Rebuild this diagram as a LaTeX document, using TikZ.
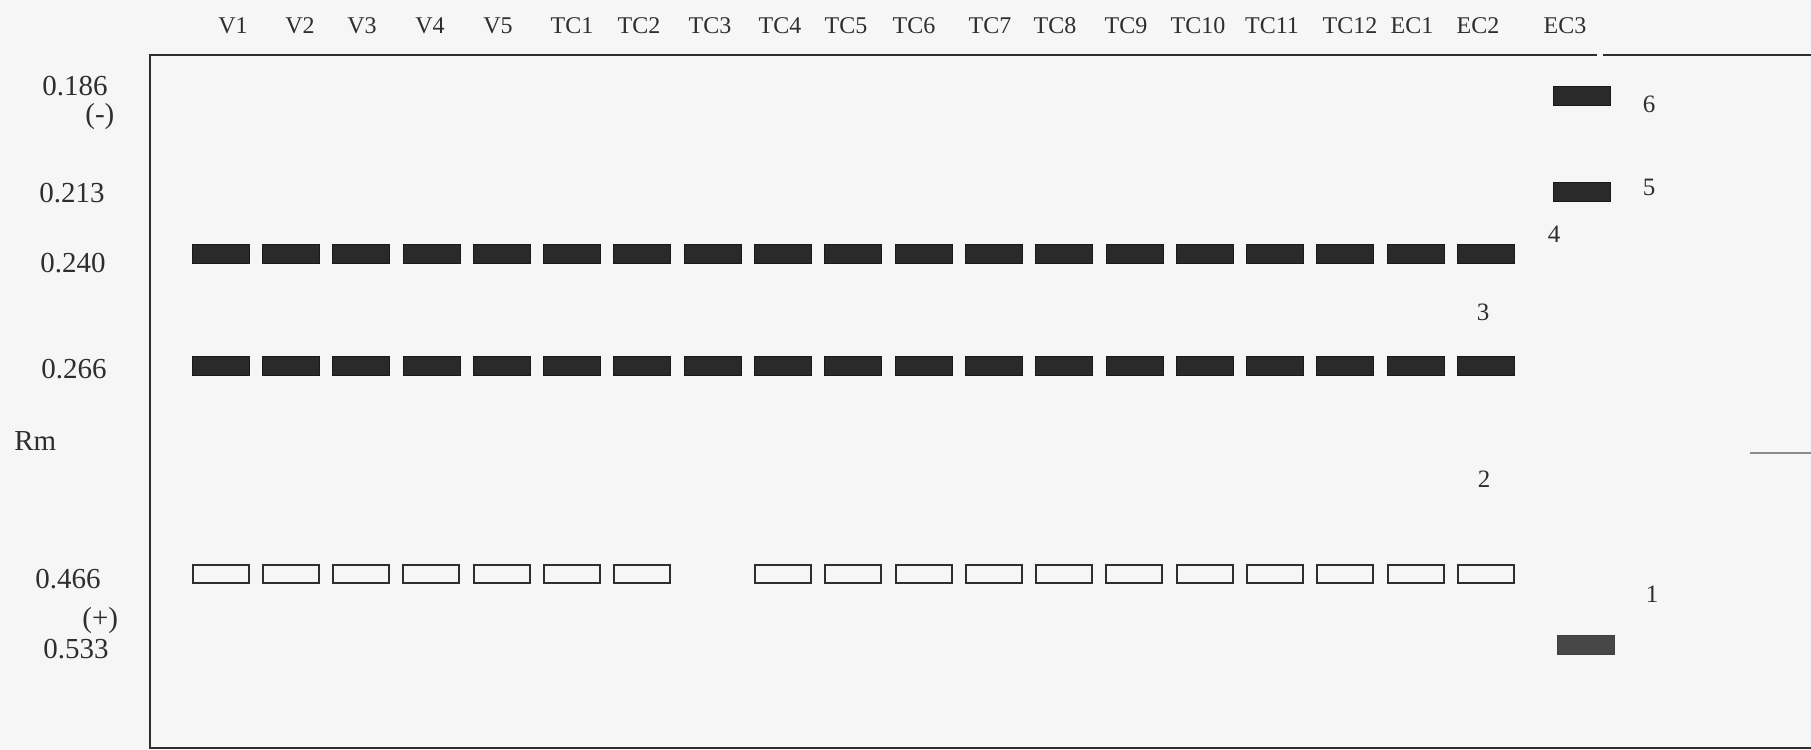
\documentclass[tikz,border=0pt]{standalone}
\usepackage{fontspec}
\setmainfont{Liberation Serif}
\definecolor{bandcol}{HTML}{2A2A2A}
\definecolor{inkcol}{HTML}{2E2E2E}
\definecolor{paper}{HTML}{F6F6F6}
\begin{document}
\begin{tikzpicture}[x=0.5pt,y=-0.5pt,
  toplab/.style={anchor=base,inner sep=0pt,text=inkcol,font=\fontsize{12}{14}\selectfont},
  leftlab/.style={anchor=base west,inner sep=0pt,text=inkcol,font=\fontsize{14.5}{17}\selectfont},
  numlab/.style={anchor=base,inner sep=0pt,text=inkcol,font=\fontsize{12.5}{15}\selectfont},
  darkband/.style={rectangle,inner sep=0pt,minimum width=28.5pt,minimum height=9.5pt,fill=bandcol,draw=black!90,line width=0.4pt},
  lightband/.style={darkband,fill=black!72,draw=black!75},
  openband/.style={rectangle,inner sep=0pt,minimum width=28pt,minimum height=9pt,draw=inkcol,line width=1pt},
  frameline/.style={draw=inkcol,line width=1.3pt}]
\fill[paper] (0,0) rectangle (1811,750);
\useasboundingbox (0,0) rectangle (1811,750);

% frame
\coordinate (f1) at (1811,55);
\coordinate (f2) at (1603,55);
\coordinate (f3) at (1597,55);
\coordinate (f4) at (150,55);
\coordinate (f5) at (150,748);
\coordinate (f6) at (1811,748);
\draw[frameline] (f1) -- (f2);
\draw[frameline] (f3) -- (f4) -- (f5) -- (f6);

% lane labels
\foreach \t/\x [count=\i] in {V1/233,V2/300,V3/362,V4/430,V5/498,TC1/572,TC2/639,TC3/710,TC4/780,TC5/846,TC6/914,TC7/990,TC8/1055,TC9/1126,TC10/1198,TC11/1272,TC12/1350,EC1/1412,EC2/1478,EC3/1565}
  \node[toplab] (lab\i) at (\x,33) {\t};

% left labels
\node[leftlab] (r186) at (42,95) {0.186};
\node[leftlab] (rminus) at (85,123) {(-)};
\node[leftlab] (r213) at (39,202) {0.213};
\node[leftlab] (r240) at (40,272) {0.240};
\node[leftlab] (r266) at (41,378) {0.266};
\node[leftlab] (rm) at (14,450) {Rm};
\node[leftlab] (r466) at (35,588) {0.466};
\node[leftlab] (rplus) at (82,627) {(+)};
\node[leftlab] (r533) at (43,658) {0.533};

% bands in lanes V1 ... EC2
\foreach \i in {0,...,18}{
  \pgfmathsetmacro{\cx}{220.5+70.3*\i}
  \node[darkband] (a\i) at (\cx,253.5) {};
  \node[darkband] (b\i) at (\cx,365.5) {};
  \ifnum\i=7\relax\else
    \node[openband] (c\i) at (\cx,573.5) {};
  \fi
}

% EC3 bands
\node[darkband] (e6) at (1581.5,96) {};
\node[darkband] (e5) at (1581.5,192) {};
\node[lightband] (e1) at (1585.5,644.5) {};

% band numbers
\node[numlab] (n6) at (1649,112) {6};
\node[numlab] (n5) at (1649,195) {5};
\node[numlab] (n4) at (1554,242) {4};
\node[numlab] (n3) at (1483,320) {3};
\node[numlab] (n2) at (1484,487) {2};
\node[numlab] (n1) at (1652,602) {1};

% faint mark at right edge
\coordinate (m1) at (1750,453);
\coordinate (m2) at (1811,453);
\draw[black!45,line width=0.8pt] (m1) -- (m2);
\end{tikzpicture}
\end{document}
